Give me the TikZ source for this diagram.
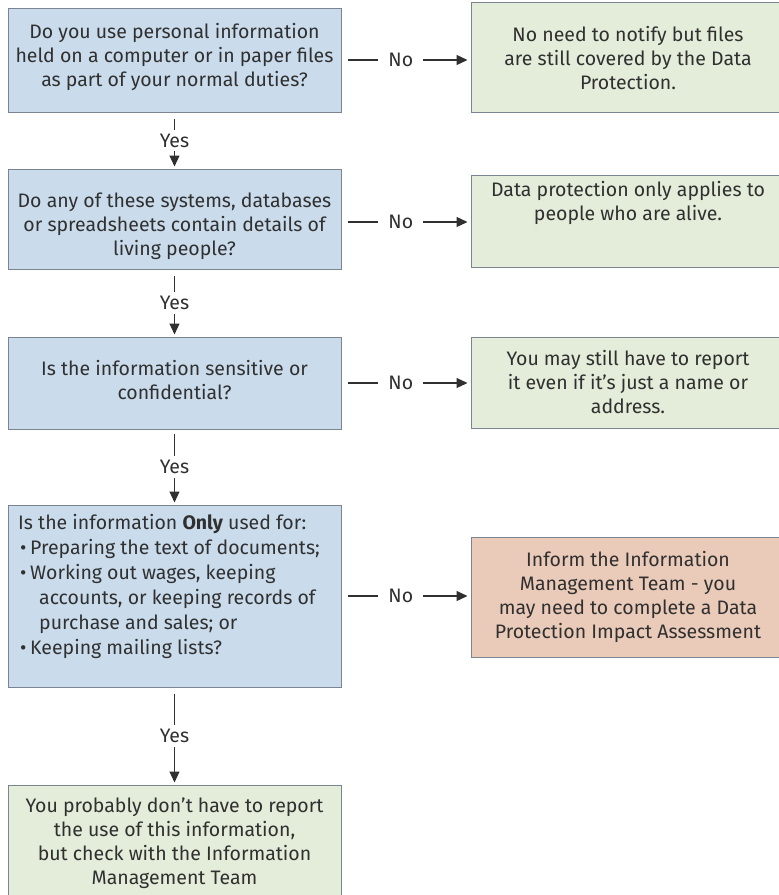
\documentclass[tikz,border=0pt]{standalone}
\usepackage{fontspec}
\setmainfont{Fira Sans}
\usetikzlibrary{arrows.meta}
\definecolor{bluefill}{HTML}{CADCEC}
\definecolor{greenfill}{HTML}{E3EDD9}
\definecolor{orangefill}{HTML}{EACAB8}
\definecolor{edge}{HTML}{7A8591}
\definecolor{ink}{HTML}{303030}
\newcommand{\sq}{\char39\relax}
\begin{document}
\begin{tikzpicture}[x=1pt,y=-1pt,
  font=\fontsize{19.5}{24}\selectfont,
  box/.style={draw=edge, line width=1pt, inner sep=0pt, anchor=center},
  qbox/.style={box, fill=bluefill},
  abox/.style={box, fill=greenfill},
  obox/.style={box, fill=orangefill},
  txt/.style={text=ink, align=center, inner sep=0pt},
  conn/.style={draw=ink, line width=1.1pt},
  tip/.style={-{Triangle[length=11pt,width=10pt]}},
  ylab/.style={fill=white, text=ink, inner xsep=2pt, inner ysep=4pt},
  nlab/.style={fill=white, text=ink, inner xsep=10pt, inner ysep=2pt}]
\useasboundingbox (0,0) rectangle (779,895);
\clip (0,0) rectangle (779,895);
\fill[white] (0,0) rectangle (779,895);

% question boxes
\node[qbox, minimum width=333pt, minimum height=104pt] (q1) at (174.5,60) {};
\node[qbox, minimum width=333pt, minimum height=100pt] (q2) at (174.5,219) {};
\node[qbox, minimum width=333pt, minimum height=92pt] (q3) at (174.5,383) {};
\node[qbox, minimum width=333pt, minimum height=182pt] (q4) at (174.5,596) {};
\node[abox, minimum width=333pt, minimum height=120pt] (q5) at (174.5,845) {};

% answer boxes
\node[abox, minimum width=314pt, minimum height=110pt] (r1) at (628,57) {};
\node[abox, minimum width=314pt, minimum height=92pt] (r2) at (628,221) {};
\node[abox, minimum width=314pt, minimum height=91pt] (r3) at (628,382.5) {};
\node[obox, minimum width=314pt, minimum height=120pt] (r4) at (628,597) {};

% texts
\node[txt] (q1t) at (174.5,57) {Do you use personal information\\held on a computer or in paper files\\as part of your normal duties?};
\node[txt] (q2t) at (174.5,226) {Do any of these systems, databases\\or spreadsheets contain details of\\living people?};
\node[txt] (q3t) at (174.5,380) {Is the information sensitive or\\confidential?};
\node[txt, align=left, anchor=west, font=\fontsize{19.5}{25}\selectfont] (q4t) at (18,586.5) {Is the information \textbf{Only} used for:\\
\hspace*{2pt}\makebox[10pt][l]{\textbullet}Preparing the text of documents;\\
\hspace*{2pt}\makebox[10pt][l]{\textbullet}Working out wages, keeping\\
\hspace*{21pt}accounts, or keeping records of\\
\hspace*{21pt}purchase and sales; or\\
\hspace*{2pt}\makebox[10pt][l]{\textbullet}Keeping mailing lists?};
\node[txt] (q5t) at (174.5,843) {You probably don\sq t have to report\\the use of this information,\\but check with the Information\\Management Team};

\node[txt] (r1t) at (628,58) {No need to notify but files\\are still covered by the Data\\Protection.};
\node[txt] (r2t) at (628,203) {Data protection only applies to\\people who are alive.};
\node[txt] (r3t) at (628,382) {You may still have to report\\it even if it\sq s just a name or\\address.};
\node[txt] (r4t) at (628,597) {Inform the Information\\Management Team - you\\may need to complete a Data\\Protection Impact Assessment};

% Yes connectors
\draw[conn, tip, shorten <=6pt, shorten >=2pt] (q1.south) -- node[ylab]{Yes} (q2.north);
\draw[conn, tip, shorten <=6pt, shorten >=2pt] (q2.south) -- node[ylab]{Yes} (q3.north);
\draw[conn, tip, shorten <=4pt, shorten >=2pt] (q3.south) -- node[ylab]{Yes} (q4.north);
\draw[conn, tip, shorten <=6pt, shorten >=2pt] (q4.south) -- node[ylab]{Yes} (q5.north);

% No connectors
\draw[conn, tip, shorten <=6pt, shorten >=3pt] (q1.east) -- node[nlab, pos=0.46]{No} (q1.east -| r1.west);
\draw[conn, tip, shorten <=6pt, shorten >=3pt] (q2.east) ++(0,3) coordinate (q2e) (q2e) -- node[nlab, pos=0.46]{No} (q2e -| r2.west);
\draw[conn, tip, shorten <=6pt, shorten >=3pt] (q3.east) -- node[nlab, pos=0.46]{No} (q3.east -| r3.west);
\draw[conn, tip, shorten <=6pt, shorten >=3pt] (q4.east) -- node[nlab, pos=0.46]{No} (q4.east -| r4.west);
\end{tikzpicture}
\end{document}
